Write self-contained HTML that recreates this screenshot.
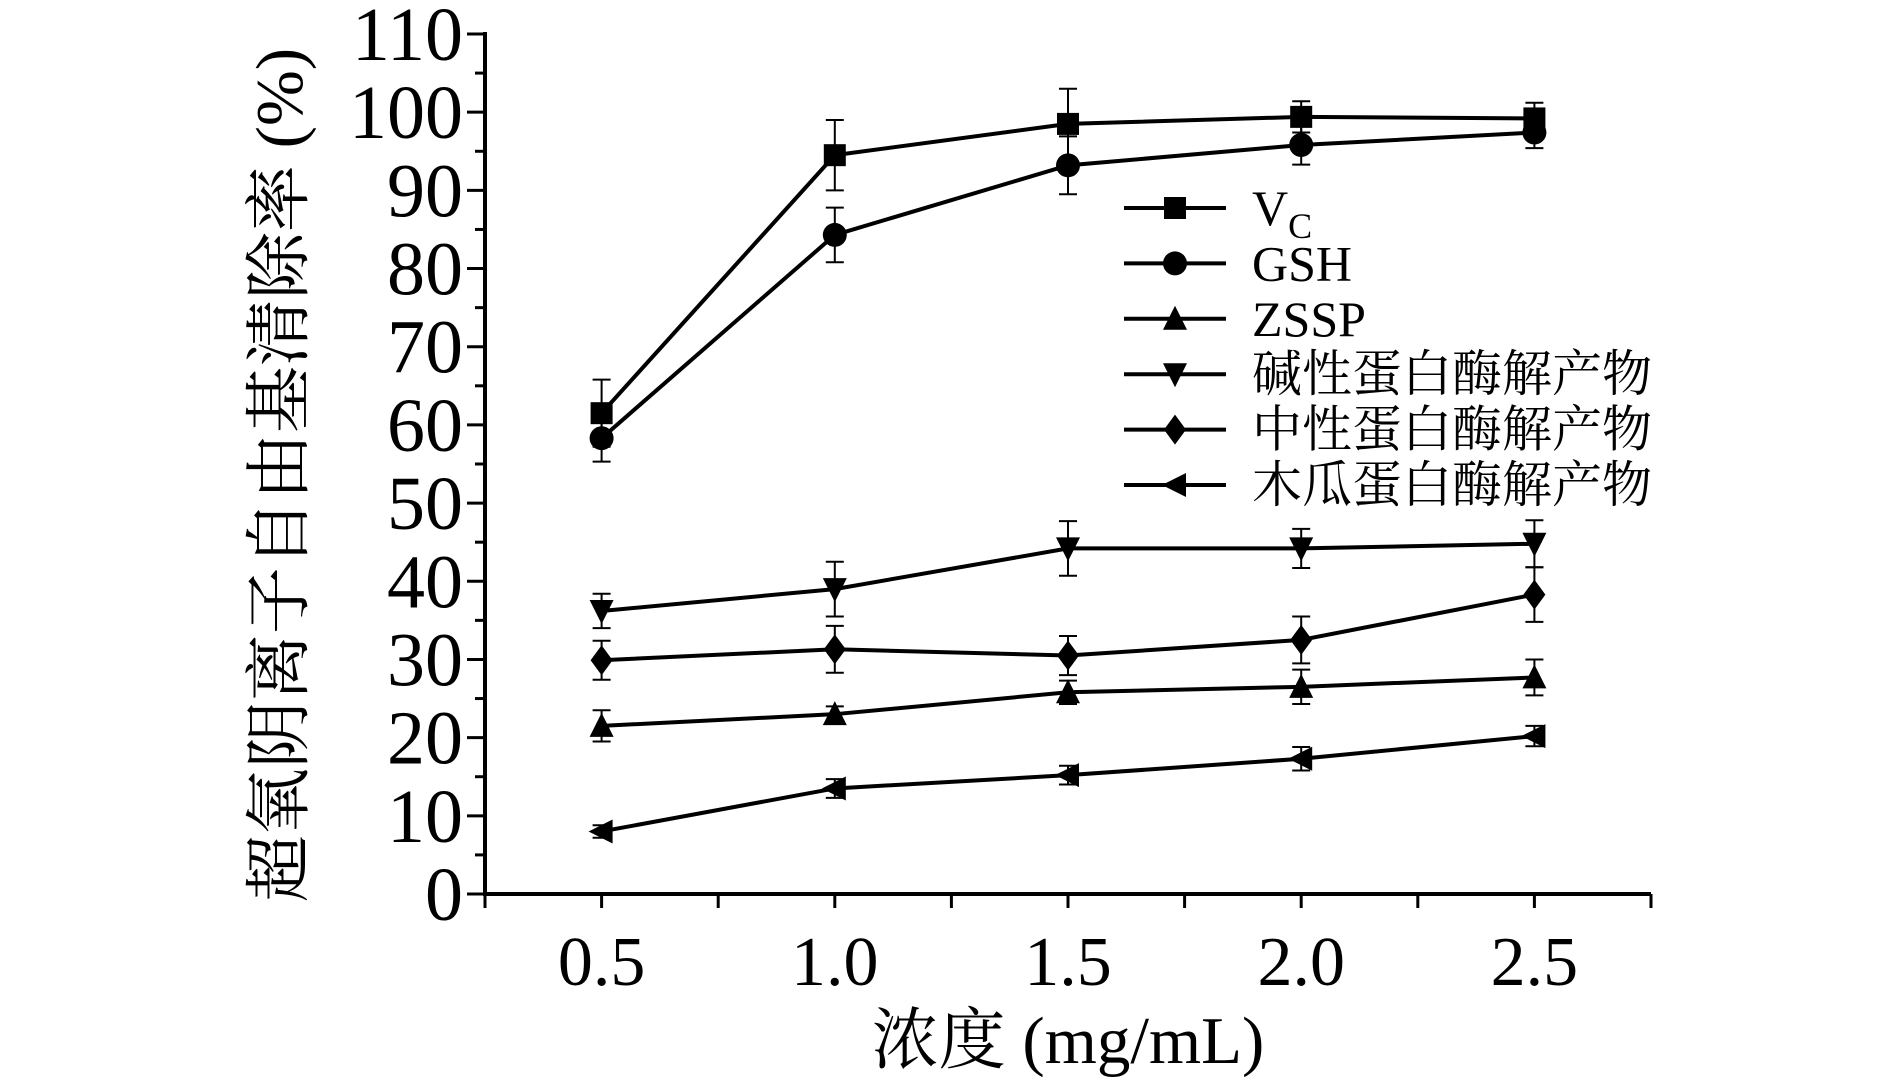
<!DOCTYPE html>
<html><head><meta charset="utf-8"><style>
html,body{margin:0;padding:0;background:#fff}
svg text{font-family:"Liberation Serif","Noto Serif CJK SC",serif;fill:#000}
</style></head><body>
<svg id="chart" width="1890" height="1077" viewBox="0 0 1890 1077" xmlns="http://www.w3.org/2000/svg">
<g id="axes"></g>
<g id="series"></g>
<g id="legend"></g>
<text x="1068" y="1063" font-size="67" text-anchor="middle">浓度 (mg/mL)</text>
<text transform="translate(302,475) rotate(-90)" font-size="67" text-anchor="middle">超氧阴离子自由基清除率 (%)</text>
</svg>
<script>
const categories = [0.5, 1.0, 1.5, 2.0, 2.5];
const xTickLabels = ["0.5", "1.0", "1.5", "2.0", "2.5"];
const yTickLabels = ["0","10","20","30","40","50","60","70","80","90","100","110"];
const seriesNames = ["VC", "GSH", "ZSSP", "碱性蛋白酶解产物", "中性蛋白酶解产物", "木瓜蛋白酶解产物"];
const vcValues = [61.5, 94.5, 98.5, 99.4, 99.2];
const vcErr = [4.3, 4.5, 4.5, 2, 2];
const gshValues = [58.3, 84.3, 93.2, 95.8, 97.4];
const gshErr = [3, 3.5, 3.7, 2.5, 2];
const zsspValues = [21.5, 23, 25.8, 26.5, 27.7];
const zsspErr = [2, 1, 1.5, 2.2, 2.3];
const alkalineValues = [36.2, 39, 44.2, 44.2, 44.8];
const alkalineErr = [2.2, 3.5, 3.5, 2.5, 3];
const neutralValues = [29.9, 31.3, 30.5, 32.5, 38.3];
const neutralErr = [2.5, 3, 2.5, 3, 3.5];
const papainValues = [8, 13.5, 15.2, 17.3, 20.2];
const papainErr = [0.8, 1.2, 1.2, 1.5, 1.3];

const NS = "http://www.w3.org/2000/svg";
const L = 485, R = 1651, T = 34, B = 894;
const xMin = 0.25, xMax = 2.75, yMin = 0, yMax = 110;
const xs = v => L + (v - xMin) / (xMax - xMin) * (R - L);
const ys = v => B - (v - yMin) / (yMax - yMin) * (B - T);
function mk(tag, attrs, parent) {
  const e = document.createElementNS(NS, tag);
  for (const k in attrs) e.setAttribute(k, attrs[k]);
  parent.appendChild(e); return e;
}
const axes = document.getElementById('axes');
let e;
e = mk('line', {x1: L, y1: T - 2, x2: L, y2: B + 2, stroke: '#000', 'stroke-width': 4}, axes);


e = mk('line', {x1: L - 2, y1: B, x2: R, y2: B, stroke: '#000', 'stroke-width': 4}, axes);


yTickLabels.forEach((lab, i) => {
  const v = Number(lab), y = ys(v);
  mk('line', {x1: L - 18, y1: y, x2: L, y2: y, stroke: '#000', 'stroke-width': 3}, axes);
  if (i < yTickLabels.length - 1) mk('line', {x1: L - 10, y1: ys(v + 5), x2: L, y2: ys(v + 5), stroke: '#000', 'stroke-width': 3}, axes);
  const t = mk('text', {x: L - 22, y: y + 26, 'font-size': 76, 'text-anchor': 'end'}, axes);
  t.textContent = lab;
  
  
});
for (let v = 0.25; v <= 2.751; v += 0.25) {
  mk('line', {x1: xs(v), y1: B, x2: xs(v), y2: B + 14, stroke: '#000', 'stroke-width': 3}, axes);
}
categories.forEach((c, i) => {
  const t = mk('text', {x: xs(c), y: 985, 'font-size': 70, 'text-anchor': 'middle'}, axes);
  t.textContent = xTickLabels[i];
  
  
});
function marker(type, x, y, parent) {
  const s = 11;
  let m;
  if (type === 'square') m = mk('rect', {x: x - s, y: y - s, width: 2 * s, height: 2 * s, fill: '#000'}, parent);
  else if (type === 'circle') m = mk('circle', {cx: x, cy: y, r: s + 1, fill: '#000'}, parent);
  else if (type === 'up') m = mk('polygon', {points: `${x},${y - s - 2} ${x + s + 1},${y + s} ${x - s - 1},${y + s}`, fill: '#000'}, parent);
  else if (type === 'down') m = mk('polygon', {points: `${x},${y + s + 2} ${x + s + 1},${y - s} ${x - s - 1},${y - s}`, fill: '#000'}, parent);
  else if (type === 'diamond') m = mk('polygon', {points: `${x},${y - s - 4} ${x + s},${y} ${x},${y + s + 4} ${x - s},${y}`, fill: '#000'}, parent);
  else m = mk('polygon', {points: `${x - s - 2},${y} ${x + s},${y - s - 1} ${x + s},${y + s + 1}`, fill: '#000'}, parent);
  return m;
}
const seriesData = [
  [vcValues, vcErr, 'square'], [gshValues, gshErr, 'circle'], [zsspValues, zsspErr, 'up'],
  [alkalineValues, alkalineErr, 'down'], [neutralValues, neutralErr, 'diamond'], [papainValues, papainErr, 'left']
];
const sg = document.getElementById('series');
seriesData.forEach((sd, si) => {
  const [vals, errs, type] = sd;
  const g = mk('g', {}, sg);
  
  
  const pts = vals.map((v, i) => `${xs(categories[i])},${ys(v)}`).join(' ');
  mk('polyline', {points: pts, fill: 'none', stroke: '#000', 'stroke-width': 4}, g);
  vals.forEach((v, i) => {
    const x = xs(categories[i]);
    mk('line', {x1: x, y1: ys(v + errs[i]), x2: x, y2: ys(v - errs[i]), stroke: '#000', 'stroke-width': 2}, g);
    mk('line', {x1: x - 9, y1: ys(v + errs[i]), x2: x + 9, y2: ys(v + errs[i]), stroke: '#000', 'stroke-width': 2}, g);
    mk('line', {x1: x - 9, y1: ys(v - errs[i]), x2: x + 9, y2: ys(v - errs[i]), stroke: '#000', 'stroke-width': 2}, g);
    const m = marker(type, x, ys(v), g);
    
    
  });
});
const lg = document.getElementById('legend');
const legendTypes = ['square', 'circle', 'up', 'down', 'diamond', 'left'];
seriesNames.forEach((n, i) => {
  const y = 208 + i * 55.4;
  const g = mk('g', {}, lg);
  
  
  mk('line', {x1: 1124, y1: y, x2: 1226, y2: y, stroke: '#000', 'stroke-width': 4}, g);
  marker(legendTypes[i], 1175, y, g);
  const t = mk('text', {x: 1252, y: y + 17, 'font-size': 50}, g);
  if (i === 0) {
    t.textContent = 'V';
    const sub = mk('tspan', {'font-size': 36, dy: 13}, t);
    sub.textContent = 'C';
  } else t.textContent = n;
});
</script>
</body></html>
